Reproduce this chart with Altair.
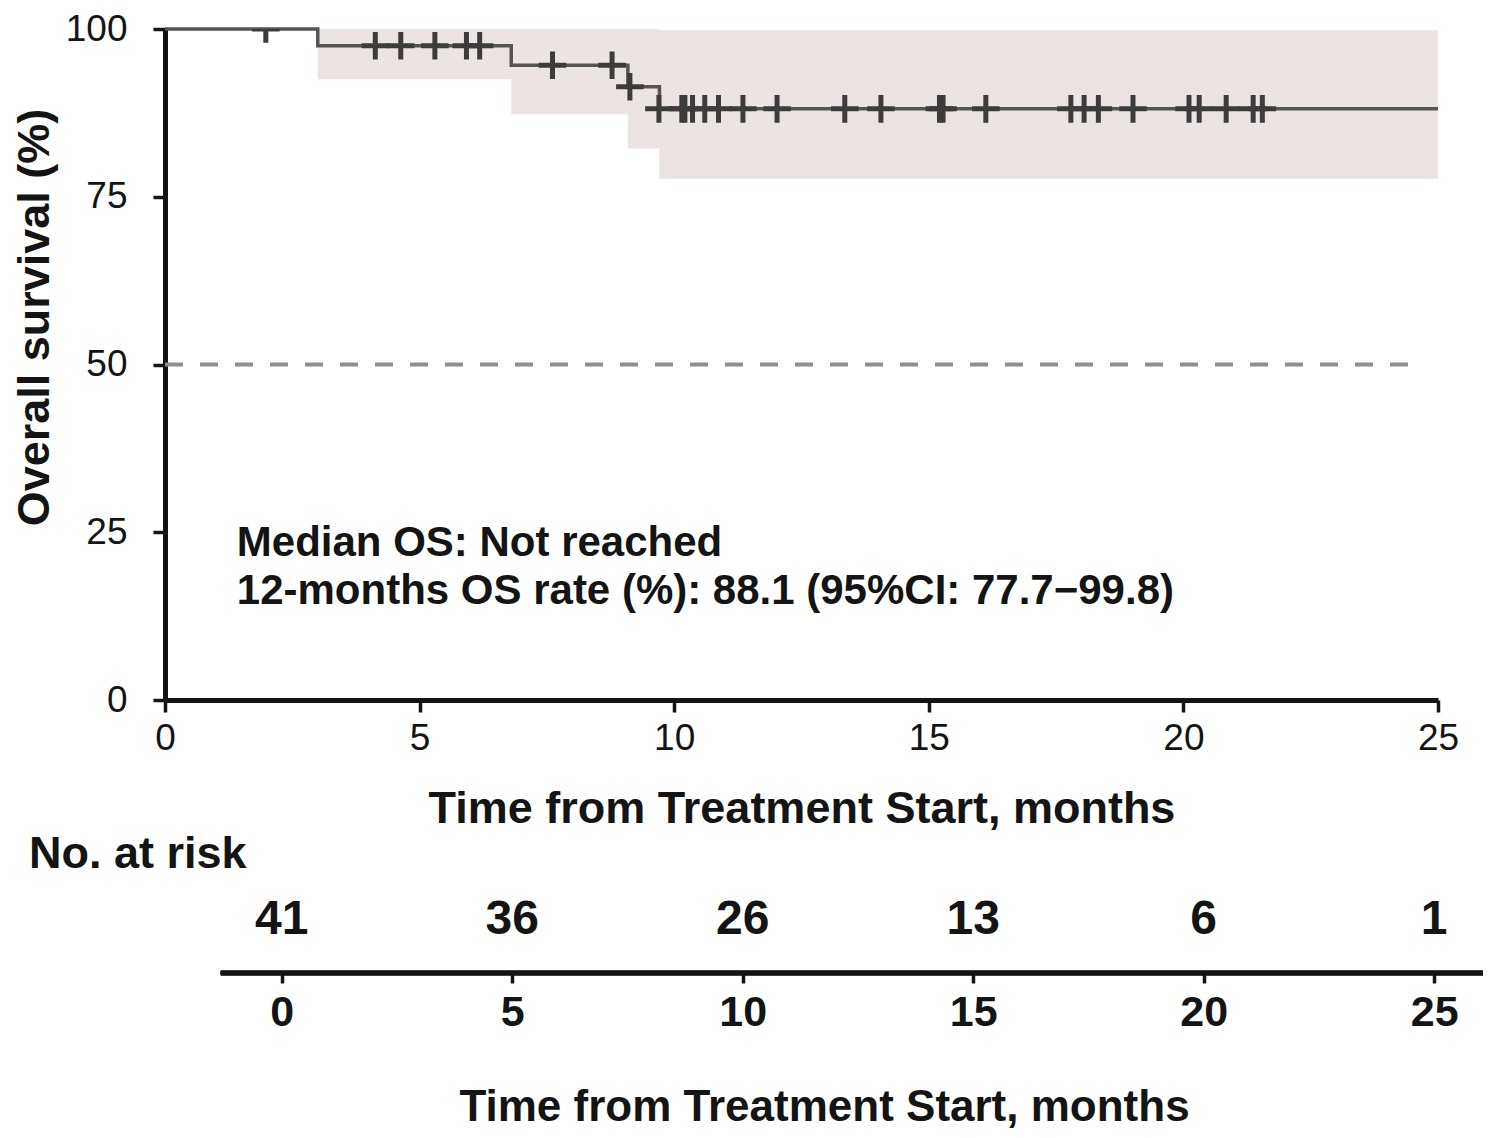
import altair as alt
import pandas as pd

FONT = "Liberation Sans"
INK = "#141414"

# Kaplan-Meier step curve (overall survival, %)
km_time = [0.0, 3.0, 6.8, 9.09, 9.71, 25.0]
km_surv = [100.0, 97.5, 94.6, 91.4, 88.1, 88.1]

# 95% confidence band
ci_time = [3.0, 6.8, 9.09, 9.71, 25.0]
ci_lower = [92.5, 87.3, 82.2, 77.7, 77.7]
ci_upper = [100.0, 100.0, 100.0, 99.8, 99.8]

# censored observations
censor_time = [1.98, 4.13, 4.63, 5.30, 5.92, 6.18, 7.61, 8.78, 9.13, 9.70,
               10.15, 10.21, 10.36, 10.60, 10.87, 11.35, 12.02, 13.35, 14.06,
               15.21, 15.28, 16.12, 17.79, 18.05, 18.33, 19.01, 20.11, 20.31,
               20.84, 21.37, 21.55]
censor_surv = [100.0, 97.5, 97.5, 97.5, 97.5, 97.5, 94.6, 94.6, 91.4, 88.1,
               88.1, 88.1, 88.1, 88.1, 88.1, 88.1, 88.1, 88.1, 88.1,
               88.1, 88.1, 88.1, 88.1, 88.1, 88.1, 88.1, 88.1, 88.1,
               88.1, 88.1, 88.1]

# 50% reference line
median_line_x = [0.0]
median_line_x2 = [24.57]
median_line_y = [50.0]

# number at risk table
risk_time = [0, 5, 10, 15, 20, 25]
risk_n = [41, 36, 26, 13, 6, 1]

annot_lines = ["Median OS: Not reached",
               "12-months OS rate (%): 88.1 (95%CI: 77.7\u221299.8)"]

xticks = [0, 5, 10, 15, 20, 25]
yticks = [0, 25, 50, 75, 100]

km_df = pd.DataFrame({"t": km_time, "s": km_surv})
ci_df = pd.DataFrame({"t": ci_time, "lo": ci_lower, "hi": ci_upper})
cens_df = pd.DataFrame({"t": censor_time, "s": censor_surv})
med_df = pd.DataFrame({"x": median_line_x, "x2": median_line_x2, "y": median_line_y})
risk_df = pd.DataFrame({"t": risk_time, "n": risk_n})

xscale = alt.Scale(domain=[0, 25], nice=False, zero=False)
yscale = alt.Scale(domain=[0, 100], nice=False)

xaxis = alt.Axis(values=xticks, title="Time from Treatment Start, months",
                 titleFontSize=45, titleFontWeight="bold", titleFont=FONT,
                 titleColor=INK, titlePadding=30,
                 labelFontSize=37, labelFont=FONT, labelColor=INK,
                 labelPadding=8, labelFlush=False,
                 tickSize=12, tickWidth=3.5, tickColor=INK,
                 domainWidth=5, domainColor=INK, grid=False)
yaxis = alt.Axis(values=yticks, title="Overall survival (%)",
                 titleFontSize=45, titleFontWeight="bold", titleFont=FONT,
                 titleColor=INK, titleX=-131, titleY=288,
                 titleBaseline="middle", titleAngle=270,
                 labelFontSize=37, labelFont=FONT, labelColor=INK,
                 labelPadding=26,
                 tickSize=12, tickWidth=3.5, tickColor=INK,
                 domainWidth=5, domainColor=INK, grid=False)

band = alt.Chart(ci_df).mark_area(interpolate="step-after", color="#ebe4e2").encode(
    x=alt.X("t:Q", scale=xscale, axis=xaxis),
    y=alt.Y("lo:Q", scale=yscale, axis=yaxis),
    y2="hi:Q",
)

median_rule = alt.Chart(med_df).mark_rule(
    color="#8f8f8f", strokeWidth=4, strokeDash=[18, 17]
).encode(x="x:Q", x2="x2:Q", y="y:Q")

line = alt.Chart(km_df).mark_line(
    interpolate="step-after", color="#555555", strokeWidth=3.5
).encode(x="t:Q", y="s:Q")

cross = "M-1,0L1,0M0,-1L0,1"
censors = alt.Chart(cens_df).mark_point(
    shape=cross, size=760, stroke="#3c3c3c", strokeWidth=5, filled=False,
    opacity=1, clip=True
).encode(x="t:Q", y="s:Q")

annot1 = alt.Chart(pd.DataFrame({"label": [annot_lines[0]]})).mark_text(
    align="left", baseline="alphabetic", font=FONT, fontSize=42,
    fontWeight="bold", color=INK
).encode(x=alt.datum(1.41), y=alt.datum(21.5), text="label:N")

annot2 = alt.Chart(pd.DataFrame({"label": [annot_lines[1]]})).mark_text(
    align="left", baseline="alphabetic", font=FONT, fontSize=42,
    fontWeight="bold", color=INK
).encode(x=alt.datum(1.41), y=alt.datum(14.3), text="label:N")

main = alt.layer(band, median_rule, line, censors, annot1, annot2).properties(
    width=1273, height=671
)

# ---- number at risk panel ----
rscale = alt.Scale(domain=[-2.53, 26.06], nice=False, zero=False)
raxis = alt.Axis(values=xticks, title="Time from Treatment Start, months",
                 titleFontSize=44, titleFontWeight="bold", titleFont=FONT,
                 titleColor=INK, titlePadding=51,
                 labelFontSize=43, labelFontWeight="bold", labelFont=FONT,
                 labelColor=INK, labelPadding=8, labelFlush=False,
                 tickSize=10, tickWidth=3.5, tickColor=INK,
                 domain=False, grid=False)

risk_text = alt.Chart(risk_df).mark_text(
    font=FONT, fontSize=48, fontWeight="bold", color=INK, baseline="middle"
).encode(
    x=alt.X("t:Q", scale=rscale, axis=raxis),
    y=alt.value(38),
    text="n:Q",
)

risk_rule = alt.Chart(risk_df).mark_rule(color=INK, strokeWidth=4.5).encode(
    x=alt.datum(-1.32), x2=alt.datum(26.06), y=alt.value(91)
)

risk = alt.layer(risk_text, risk_rule).properties(
    width=1318, height=91,
    title=alt.TitleParams("No. at risk", anchor="start", frame="group",
                          dx=-136, offset=5.5, fontSize=45, fontWeight="bold",
                          font=FONT, color=INK),
)

chart = alt.vconcat(main, risk, spacing=0).properties(
    padding={"left": 4, "top": 2, "right": 0, "bottom": 0},
    background="white",
).configure_view(stroke=None)

chart.save("out.html", embed_options={"renderer": "svg", "actions": False})
